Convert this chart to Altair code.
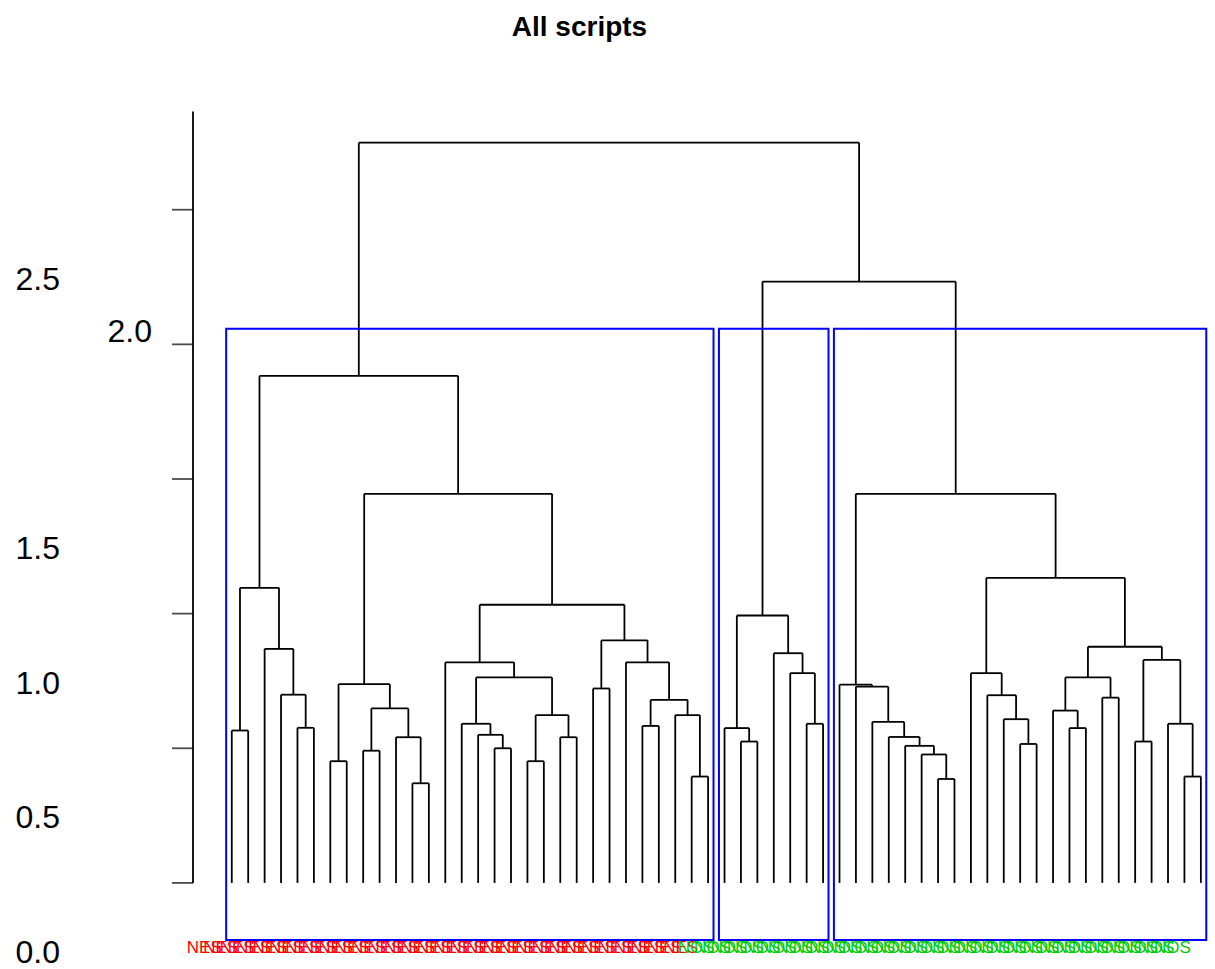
import altair as alt
import pandas as pd

# ---------------- data ----------------
leaf_labels = ["NES"] * 30 + ["NOS"] * 30
leaf_groups = ["red"] * 30 + ["green"] * 30

# R-style merge matrix: negative = leaf (plot order), positive = earlier merge (1-based)
merge_left = [-1, -5, -4, -3, 1, -7, -9, -12, -11, 7, 6, -17, -16, -15, -19, -21, 15, 14, -14, -23,
              -26, -29, -28, 21, -25, 20, 19, 11, 5,
              -32, -31, -36, -35, -34, 31,
              -44, -43, -42, -41, -40, -39, -38, -49, -48, -47, -46, -52, -51, -54, 48, -56, -59, -58,
              51, 50, 46, 42, 35, 29]
merge_right = [-2, -6, 2, 3, 4, -8, -10, -13, 8, 9, 10, -18, 12, 13, -20, -22, 16, 17, 18, -24,
               -27, -30, 22, 23, 24, 25, 26, 27, 28,
               -33, 30, -37, 32, 33, 34,
               -45, 36, 37, 38, 39, 40, 41, -50, 43, 44, 45, -53, 47, -55, 49, -57, -60, 52,
               53, 54, 55, 56, 57, 58]
merge_height = [0.566, 0.576, 0.699, 0.869, 1.096, 0.452, 0.491, 0.370, 0.541, 0.648, 0.738,
                0.500, 0.550, 0.591, 0.452, 0.541, 0.623, 0.763, 0.819, 0.722, 0.583, 0.395,
                0.623, 0.680, 0.819, 0.901, 1.033, 1.445, 1.883,
                0.525, 0.575, 0.591, 0.779, 0.853, 0.993,
                0.386, 0.477, 0.509, 0.542, 0.598, 0.729, 0.736, 0.516, 0.608, 0.697, 0.779,
                0.575, 0.640, 0.688, 0.763, 0.525, 0.395, 0.591, 0.828, 0.877, 1.133, 1.445,
                2.233, 2.749]
k_clusters = 3
y_tick_values = [0.0, 0.5, 1.0, 1.5, 2.0, 2.5]
shifted_tick = 2.0          # the one tick label drawn out of line in the reference
x_domain = [-1.36, 60.8]
y_domain = [-0.212, 2.90]
axis_line_top = 2.865
title_text = "All scripts"
label_colors = {"red": "#FF0000", "green": "#00CD00"}

# ---------------- dendrogram layout ----------------
centers = []
segs = []


def child(c):
    if c < 0:
        return float(-c), 0.0
    return centers[c - 1], merge_height[c - 1]


for l, r, h in zip(merge_left, merge_right, merge_height):
    xl, hl = child(l)
    xr, hr = child(r)
    segs.append(dict(x=xl, x2=xl, y=hl, y2=h))
    segs.append(dict(x=xr, x2=xr, y=hr, y2=h))
    segs.append(dict(x=xl, x2=xr, y=h, y2=h))
    centers.append((xl + xr) / 2)
tree_df = pd.DataFrame(segs)


def leaves_of(c):
    if c < 0:
        return [-c]
    return leaves_of(merge_left[c - 1]) + leaves_of(merge_right[c - 1])


# rect.hclust style boxes
order_desc = sorted(range(len(merge_height)), key=lambda i: -merge_height[i])
removed = set(i + 1 for i in order_desc[:k_clusters - 1])
clusters = []
for m in removed:
    for c in (merge_left[m - 1], merge_right[m - 1]):
        if c not in removed:
            lv = leaves_of(c)
            clusters.append((min(lv), max(lv)))
hs_desc = sorted(merge_height, reverse=True)
box_top = (hs_desc[k_clusters - 2] + hs_desc[k_clusters - 1]) / 2
box_df = pd.DataFrame([dict(x=a - 0.34, x2=b + 0.33, y=y_domain[0], y2=box_top) for a, b in clusters])

lab_df = pd.DataFrame(dict(pos=list(range(1, len(leaf_labels) + 1)), label=leaf_labels,
                           group=leaf_groups, y=[y_domain[0]] * len(leaf_labels)))
axis_df = pd.DataFrame(dict(x=[x_domain[0]], y=[0.0], y2=[axis_line_top]))
tick_df = pd.DataFrame(dict(x=[x_domain[0]] * len(y_tick_values), y=y_tick_values,
                            label=[f"{v:.1f}" for v in y_tick_values]))
normal_ticks = tick_df[tick_df["y"] != shifted_tick]
shifted_ticks = tick_df[tick_df["y"] == shifted_tick]

xsc = alt.Scale(domain=x_domain, nice=False, zero=False)
ysc = alt.Scale(domain=y_domain, nice=False, zero=False)
X = lambda f: alt.X(f, scale=xsc, axis=None)
Y = lambda f: alt.Y(f, scale=ysc, axis=None)

tree = alt.Chart(tree_df).mark_rule(color="black", strokeWidth=1.8).encode(
    x=X("x:Q"), x2="x2:Q", y=Y("y:Q"), y2="y2:Q")

axis_line = alt.Chart(axis_df).mark_rule(color="black", strokeWidth=1.8).encode(
    x=X("x:Q"), y=Y("y:Q"), y2="y2:Q")

ticks = alt.Chart(tick_df).mark_tick(orient="horizontal", size=21, thickness=1.8,
                                     color="black", xOffset=-10.5).encode(
    x=X("x:Q"), y=Y("y:Q"))

tick_labels = alt.Chart(normal_ticks).mark_text(
    align="right", baseline="middle", dx=-133, dy=70, fontSize=32,
    font="Liberation Sans", color="black").encode(
    x=X("x:Q"), y=Y("y:Q"), text="label:N")

shifted_label = alt.Chart(shifted_ticks).mark_text(
    align="right", baseline="middle", dx=-41, dy=-12, fontSize=32,
    font="Liberation Sans", color="black").encode(
    x=X("x:Q"), y=Y("y:Q"), text="label:N")

boxes = alt.Chart(box_df).mark_rect(filled=False, stroke="#0000FF", strokeWidth=2).encode(
    x=X("x:Q"), x2="x2:Q", y=Y("y:Q"), y2="y2:Q")

labels = alt.Chart(lab_df).mark_text(align="right", baseline="alphabetic", dx=-10, dy=13,
                                     fontSize=17, font="Liberation Sans").encode(
    x=X("pos:Q"), y=Y("y:Q"),
    text="label:N",
    color=alt.Color("group:N", scale=alt.Scale(domain=list(label_colors.keys()),
                                               range=list(label_colors.values())), legend=None))

chart = alt.layer(tree, boxes, axis_line, ticks, tick_labels, shifted_label, labels).properties(
    width=1021, height=838,
    title=alt.TitleParams(title_text, font="Liberation Sans", fontSize=28, fontWeight="bold",
                          anchor="middle", dx=-124, offset=38, baseline="alphabetic", color="black"),
    autosize=alt.AutoSizeParams(type="none"),
    padding={"left": 193, "top": 102, "right": 1, "bottom": 29},
).configure(background="white").configure_view(strokeWidth=0)

chart.save("out.html", embed_options={"renderer": "svg", "actions": False})
